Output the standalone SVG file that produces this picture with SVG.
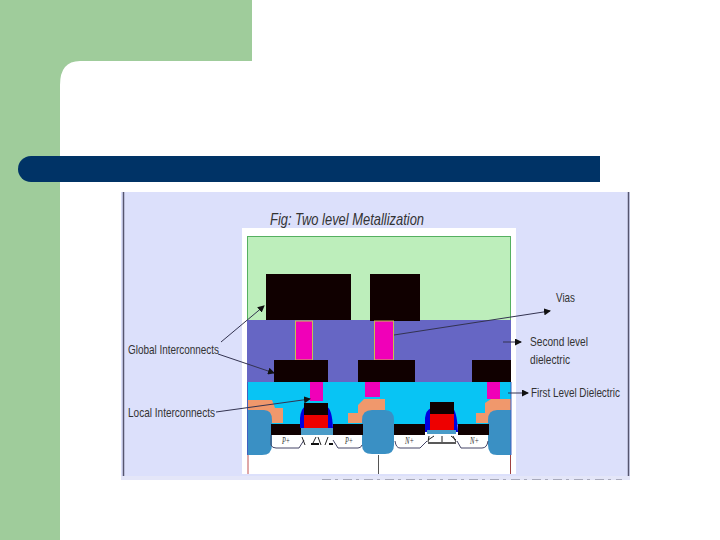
<svg xmlns="http://www.w3.org/2000/svg" width="720" height="540" viewBox="0 0 720 540">
<style>
.t{font-family:"Liberation Sans",Arial,sans-serif;font-size:13px;fill:#333}
.k{fill:#100000}.m{fill:#f000b8;stroke:#c8c050;stroke-width:1}.v{fill:#f000b8}
.o{fill:#f0986c}.i{fill:#3a90c4}.b{fill:#0000e0}.r{fill:#ee0000}.g{fill:#4a9cc8}
.l{stroke:#444466;stroke-width:1;fill:none}.a{stroke:#333350;stroke-width:1;fill:none;marker-end:url(#h)}
.s{font-family:"Liberation Serif",serif;font-size:10px;font-style:italic;fill:#333}
</style>
<defs><marker id="h" markerUnits="userSpaceOnUse" markerWidth="7" markerHeight="7" refX="6" refY="3.5" orient="auto"><path d="M0 0L7 3.500L0 7Z" fill="#111"/></marker></defs>
<rect width="720" height="540" fill="#fff"/>
<g id="background">
<path d="M0 0H252V61H80Q60 61 60 85V540H0Z" fill="#9fcc9b"/>
<path d="M31 156H600V182H31A13 13 0 0 1 31 156Z" fill="#003366"/>
</g>
<g id="figure">
<rect x="121" y="192" width="509" height="288" fill="#dce0fb"/>
<path d="M123.500 192V480M628.500 192V480" stroke="#55556f" stroke-width="1.500"/>
<rect x="121" y="476" width="509" height="4" fill="#e4e6f8"/>
<path d="M322 479.500H622" stroke="#a8aabc" stroke-dasharray="9 4 3 5"/>
<text x="270" y="225" class="t" textLength="154" lengthAdjust="spacingAndGlyphs" style="font-size:17px;font-style:italic">Fig: Two level Metallization</text>
<rect x="242" y="228" width="274" height="246" fill="#fff"/>
<rect x="247.500" y="236.500" width="263" height="84" fill="#bdeebb" stroke="#55b060"/>
<rect x="247" y="320" width="264" height="62" fill="#6666c4"/>
<rect x="247" y="382" width="264" height="43" fill="#08c4f4"/>
<rect x="247" y="425" width="264" height="30" fill="#fff"/>
</g>
<g id="metal-2">
<rect class="k" x="266" y="274" width="85" height="46"/>
<rect class="k" x="370" y="274" width="50" height="47"/>
</g>
<g id="vias">
<rect class="m" x="295.500" y="321" width="17" height="39"/>
<rect class="m" x="374.500" y="321" width="19" height="39"/>
<rect class="v" x="310" y="382" width="13" height="19"/>
<rect class="v" x="365" y="382" width="15" height="15"/>
<rect class="v" x="487" y="382" width="13" height="17"/>
</g>
<g id="metal-1">
<rect class="k" x="274" y="360" width="54" height="22"/>
<rect class="k" x="358" y="360" width="57" height="22"/>
<rect class="k" x="472" y="360" width="39" height="22"/>
</g>
<g id="oxide">
<path class="o" d="M247 400H272L275 408H283V423H247Z"/>
<path class="o" d="M348 423V413H358V405L364 399H385V412H375V423Z"/>
<path class="o" d="M476 423V413H485V403L491 399H511V423Z"/>
</g>
<g id="isolation">
<path class="i" d="M247 410H264Q272 410 272 420V445Q272 455 262 455H247Z"/>
<path class="i" d="M372 410H385Q394 410 394 420V445Q394 454 385 454H372Q362 454 362 445V420Q362 410 372 410Z"/>
<path class="i" d="M497 410H511V455H497Q488 455 488 445V420Q488 410 497 410Z"/>
</g>
<g id="transistor-p">
<rect class="k" x="271" y="424" width="30" height="11"/>
<rect class="k" x="333" y="424" width="30" height="11"/>
<path class="b" d="M300 428V418Q301 408 306 406H326Q332 408 333 428Z"/>
<rect class="g" x="301" y="428" width="32" height="7"/>
<rect class="k" x="304" y="403" width="24" height="12"/>
<rect class="r" x="304" y="415" width="24" height="13"/>
<path class="l" d="M271 435V445Q272 448 276 448H299L304 440M333 440L338 448H358Q361 448 362 445"/>
<path d="M302 437L305 445M316 437L312 445M318 437L321 445M328 437L325 445" stroke="#222" fill="none"/>
<path d="M311 444H319" stroke="#111" stroke-width="2"/>
<path d="M329 444H333" stroke="#111" stroke-width="2"/>
<text x="282" y="444" class="s" textLength="8" lengthAdjust="spacingAndGlyphs">P+</text>
<text x="345" y="444" class="s" textLength="8" lengthAdjust="spacingAndGlyphs">P+</text>
</g>
<g id="transistor-n">
<rect class="k" x="394" y="424" width="31" height="11"/>
<rect class="k" x="458" y="424" width="31" height="11"/>
<path class="b" d="M425 432V418Q426 410 431 408H452Q457 410 458 432Z"/>
<rect class="g" x="427" y="430" width="29" height="4"/>
<rect class="k" x="430" y="402" width="24" height="12"/>
<rect class="r" x="430" y="414" width="24" height="16"/>
<path class="l" d="M395 441Q396 448 400 448H420L427 441M457 441L461 448H482Q487 448 488 441"/>
<path d="M428 443H456" stroke="#222" stroke-width="1.500" fill="none"/>
<path d="M429 436L428 442M442 436V442M453 436L456 442M428 440L434 436M456 440L451 436" stroke="#222" fill="none"/>
<text x="405" y="444" class="s" textLength="9" lengthAdjust="spacingAndGlyphs">N+</text>
<text x="470" y="444" class="s" textLength="9" lengthAdjust="spacingAndGlyphs">N+</text>
</g>
<g id="substrate-lines">
<path d="M248 455V474" stroke="#c05050" fill="none"/>
<path d="M378.500 455V474" stroke="#555" fill="none"/>
<path d="M510.500 455V474" stroke="#a04040" fill="none"/>
<path d="M511 382V455" stroke="#4060c0" fill="none"/>
<path d="M247.500 382V455" stroke="#4060c0" fill="none"/>
</g>
<g id="connectors">
<path class="a" d="M221 342L264 306"/>
<path class="a" d="M218 354L274 373"/>
<path class="a" d="M216 412L310 399"/>
<path class="a" d="M394 335L550 311"/>
<path class="a" d="M503 342H521"/>
<path class="a" d="M508 393H528"/>
</g>
<g id="labels">
<text x="128" y="354" class="t" textLength="91" lengthAdjust="spacingAndGlyphs">Global Interconnects</text>
<text x="128" y="417" class="t" textLength="87" lengthAdjust="spacingAndGlyphs">Local Interconnects</text>
<text x="556" y="302" class="t" textLength="19" lengthAdjust="spacingAndGlyphs">Vias</text>
<text x="530" y="346" class="t" textLength="58" lengthAdjust="spacingAndGlyphs">Second level</text>
<text x="530" y="364" class="t" textLength="40" lengthAdjust="spacingAndGlyphs">dielectric</text>
<text x="531" y="397" class="t" textLength="89" lengthAdjust="spacingAndGlyphs">First Level Dielectric</text>
</g>
</svg>
